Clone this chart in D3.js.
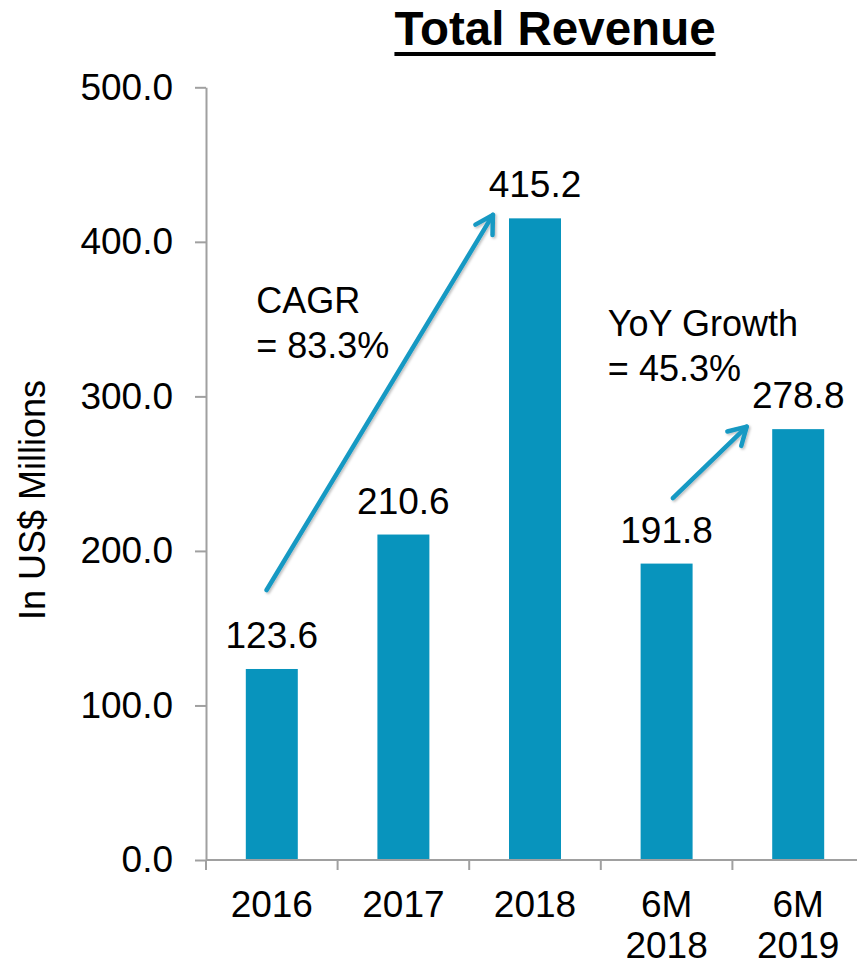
<!DOCTYPE html>
<html>
<head>
<meta charset="utf-8">
<script src="https://cdn.jsdelivr.net/npm/d3@7"></script>
<style>
  body { margin: 0; background: #fff; }
  text { font-family: "Liberation Sans", Arial, sans-serif; fill: #000; }
</style>
</head>
<body>
<div id="chart"></div>
<script>
const categories = ["2016", "2017", "2018", "6M 2018", "6M 2019"];
const categoryLines = [["2016"], ["2017"], ["2018"], ["6M", "2018"], ["6M", "2019"]];
const revenue = [123.6, 210.6, 415.2, 191.8, 278.8];
const yTicks = [0, 100, 200, 300, 400, 500];
// annotation arrows: [category, offset in bar widths, value]
const arrows = [
  {from: ["2016", 0.40, 174.7], to: ["2018", -0.31, 417.4], text: ["CAGR", "= 83.3%"], tx: ["2016", 0.2, 354]},
  {from: ["6M 2018", 0.62, 234.2], to: ["6M 2019", -0.49, 280.4], text: ["YoY Growth", "= 45.3%"], tx: ["6M 2018", -0.63, 339]}
];

const W = 857, H = 961;
const LEFT = 206, BOTTOM = 860, TOP = 87.3;
const BAR = "#0894bd";
const AXIS = "#a0a0a0";

const svg = d3.select("#chart").append("svg")
  .attr("width", W).attr("height", H);

const defs = svg.append("defs");
defs.append("marker")
  .attr("id", "head")
  .attr("markerUnits", "userSpaceOnUse")
  .attr("viewBox", "-22 -14 26 28")
  .attr("markerWidth", 26).attr("markerHeight", 28)
  .attr("refX", 0).attr("refY", 0)
  .attr("orient", "auto")
  .append("path")
  .attr("d", "M-17.3,-10L0,0L-17.3,10")
  .attr("fill", "none").attr("stroke", "#1799c3")
  .attr("stroke-width", 4.5).attr("stroke-linecap", "round").attr("stroke-linejoin", "round");
defs.append("filter").attr("id", "shadow")
  .append("feDropShadow")
  .attr("dx", 1.5).attr("dy", 1.5).attr("stdDeviation", 1)
  .attr("flood-color", "#000").attr("flood-opacity", 0.25);

const x = d3.scaleBand()
  .domain(categories)
  .range([LEFT, LEFT + 5 * 131.6])
  .paddingInner(0.605)
  .paddingOuter(0.3025);

const y = d3.scaleLinear()
  .domain([0, 500])
  .range([BOTTOM, TOP]);

// title
const title = svg.append("text")
  .attr("x", 555).attr("y", 45)
  .attr("text-anchor", "middle")
  .style("font-size", "47.5px").style("font-weight", "bold")
  .text("Total Revenue");
const tw = title.node().getComputedTextLength();
svg.append("line")
  .attr("x1", 555 - tw / 2).attr("x2", 555 + tw / 2)
  .attr("y1", 54).attr("y2", 54)
  .attr("stroke", "#000").attr("stroke-width", 4);

// bars
svg.selectAll("rect.bar")
  .data(revenue)
  .enter().append("rect")
  .attr("class", "bar")
  .attr("x", (d, i) => x(categories[i]))
  .attr("y", d => y(d))
  .attr("width", x.bandwidth())
  .attr("height", d => BOTTOM - y(d))
  .attr("fill", BAR);

// value labels
svg.selectAll("text.val")
  .data(revenue)
  .enter().append("text")
  .attr("class", "val")
  .attr("x", (d, i) => x(categories[i]) + x.bandwidth() / 2)
  .attr("y", d => y(d) - 21)
  .attr("text-anchor", "middle")
  .style("font-size", "37px")
  .text(d => d.toFixed(1));

// y axis
const yAxis = svg.append("g")
  .attr("transform", `translate(${LEFT},0)`)
  .call(d3.axisLeft(y).tickValues(yTicks).tickFormat(d3.format(".1f"))
    .tickSize(11).tickPadding(22).tickSizeOuter(0));
yAxis.selectAll("text").style("font-size", "37px").attr("fill", "#000");

// x axis
const xAxis = svg.append("g")
  .attr("transform", `translate(0,${BOTTOM})`)
  .call(d3.axisBottom(x).tickSize(0).tickSizeOuter(0).tickFormat(""));
xAxis.selectAll(".tick text").remove();
xAxis.selectAll("line.bound")
  .data(d3.range(categories.length + 1))
  .enter().append("line")
  .attr("class", "bound")
  .attr("x1", i => LEFT + i * x.step()).attr("x2", i => LEFT + i * x.step())
  .attr("y1", 0).attr("y2", 10)
  .attr("stroke", AXIS).attr("stroke-width", 2);
xAxis.select(".domain").attr("d", `M${LEFT},0H${LEFT + 5 * x.step()}`);

svg.selectAll(".domain, .tick line")
  .attr("stroke", AXIS).attr("stroke-width", 2);

const xl = svg.selectAll("text.cat")
  .data(categoryLines)
  .enter().append("text")
  .attr("class", "cat")
  .attr("text-anchor", "middle")
  .style("font-size", "37px");
xl.each(function (lines, i) {
  const cx = x(categories[i]) + x.bandwidth() / 2;
  d3.select(this).selectAll("tspan")
    .data(lines)
    .enter().append("tspan")
    .attr("x", cx)
    .attr("y", (d, j) => 917 + j * 41)
    .text(d => d);
});

// y axis title
svg.append("text")
  .attr("transform", "translate(45,500) rotate(-90)")
  .attr("text-anchor", "middle")
  .style("font-size", "36px")
  .text("In US$ Millions");

// growth arrows
const px = p => x(p[0]) + p[1] * x.bandwidth();
arrows.forEach(a => {
  svg.append("line")
    .attr("x1", px(a.from)).attr("y1", y(a.from[2]))
    .attr("x2", px(a.to)).attr("y2", y(a.to[2]))
    .attr("stroke", "#1799c3").attr("stroke-width", 4.5)
    .attr("stroke-linecap", "round")
    .attr("marker-end", "url(#head)")
    .attr("filter", "url(#shadow)");
  svg.append("text")
    .attr("x", px(a.tx)).attr("y", y(a.tx[2]))
    .style("font-size", "36px")
    .selectAll("tspan").data(a.text).enter().append("tspan")
    .attr("x", px(a.tx))
    .attr("dy", (d, j) => j ? 45 : 0)
    .text(d => d);
});
</script>
</body>
</html>
